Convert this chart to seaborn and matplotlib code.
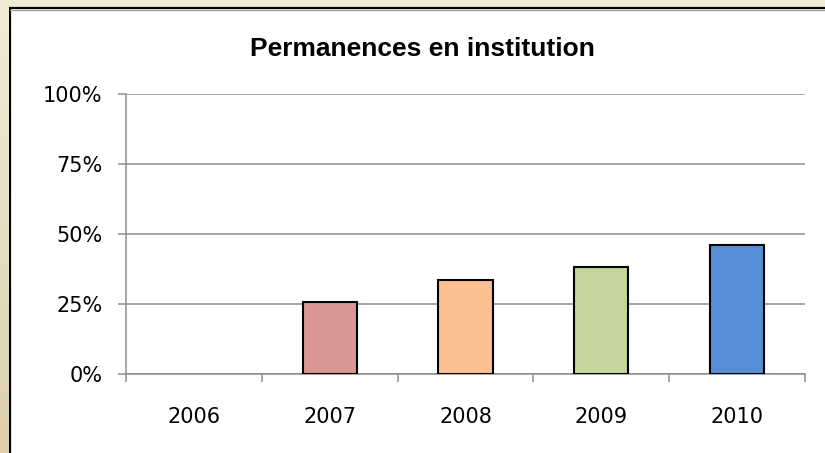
import matplotlib
matplotlib.use("Agg")
import matplotlib.pyplot as plt
import numpy as np
import seaborn as sns
from matplotlib.patches import Rectangle
from matplotlib.ticker import FuncFormatter

years = ["2006", "2007", "2008", "2009", "2010"]
shares = [0.0, 25.7, 33.4, 38.3, 46.2]
bar_colors = ["#D99694", "#D99694", "#FAC08F", "#C3D69B", "#558ED5"]
y_ticks = [0, 25, 50, 75, 100]

W, H = 825, 453
sns.set_theme(style="white")
plt.rcParams["font.family"] = ["DejaVu Sans"]

fig = plt.figure(figsize=(W / 100, H / 100), dpi=100)
fig.patch.set_facecolor("#F2EBD6")

# beige strip on the left, a bit darker towards the bottom
strip = fig.add_axes([0, 0, 9 / W, 1])
grad = np.linspace(0, 1, 100).reshape(-1, 1)
strip.imshow(grad, aspect="auto", cmap=matplotlib.colors.LinearSegmentedColormap.from_list(
    "beige", ["#F2EBD6", "#DCD0AE"]), extent=[0, 1, 0, 1], origin="upper")
strip.axis("off")

# white chart frame
fig.patches.append(Rectangle((10 / W, -0.05), 1.1, 1 - 8 / H + 0.05, transform=fig.transFigure,
                             facecolor="white", edgecolor="black", linewidth=1.6, zorder=-2))
fig.add_artist(plt.Line2D([10 / W, 1], [1 - 9.5 / H] * 2, color="#A0A0A0", lw=1.0,
                          transform=fig.transFigure, zorder=-1))

ax = fig.add_axes([126 / W, 1 - 374 / H, (805 - 126) / W, (374 - 94) / H])
ax.set_facecolor("none")
sns.barplot(x=years, y=shares, hue=years, palette=bar_colors, width=0.4, saturation=1,
            edgecolor="black", linewidth=1.5, legend=False, ax=ax, zorder=3)
for p in ax.patches:
    if p.get_height() == 0:
        p.set_linewidth(0)

ax.set_xlim(-0.5, 4.5)
ax.set_ylim(0, 100)
ax.set_yticks(y_ticks)
ax.yaxis.set_major_formatter(FuncFormatter(lambda v, _: f"{v:.0f}%"))
ax.grid(axis="y", color="#8E8E8E", linewidth=1.1, zorder=0)
ax.grid(axis="x", visible=False)
ax.set_axisbelow(True)

for s in ["top", "right"]:
    ax.spines[s].set_visible(False)
for s in ["left", "bottom"]:
    ax.spines[s].set_color("#8E8E8E")
    ax.spines[s].set_linewidth(1.1)

ax.set_xticks(np.arange(-0.5, 5, 1), minor=False)
ax.set_xticklabels([])
ax.set_xticks(range(len(years)), minor=True)
ax.set_xticklabels(years, minor=True)
ax.tick_params(axis="x", which="major", length=6, width=1.1, color="#8E8E8E", direction="out", bottom=True)
ax.tick_params(axis="x", which="minor", length=0, pad=24, labelsize=15, labelcolor="black")
ax.tick_params(axis="y", length=6, width=1.1, color="#8E8E8E", direction="out", left=True,
               pad=11, labelsize=15, labelcolor="black")
ax.set_xlabel("")
ax.set_ylabel("")

fig.text(422.5 / W, 1 - 56 / H, "Permanences en institution", ha="center", va="baseline",
         fontsize=19, fontweight="bold", color="black",
         family=["Liberation Sans", "DejaVu Sans"])

fig.savefig("out.png", dpi=100, facecolor=fig.get_facecolor())
